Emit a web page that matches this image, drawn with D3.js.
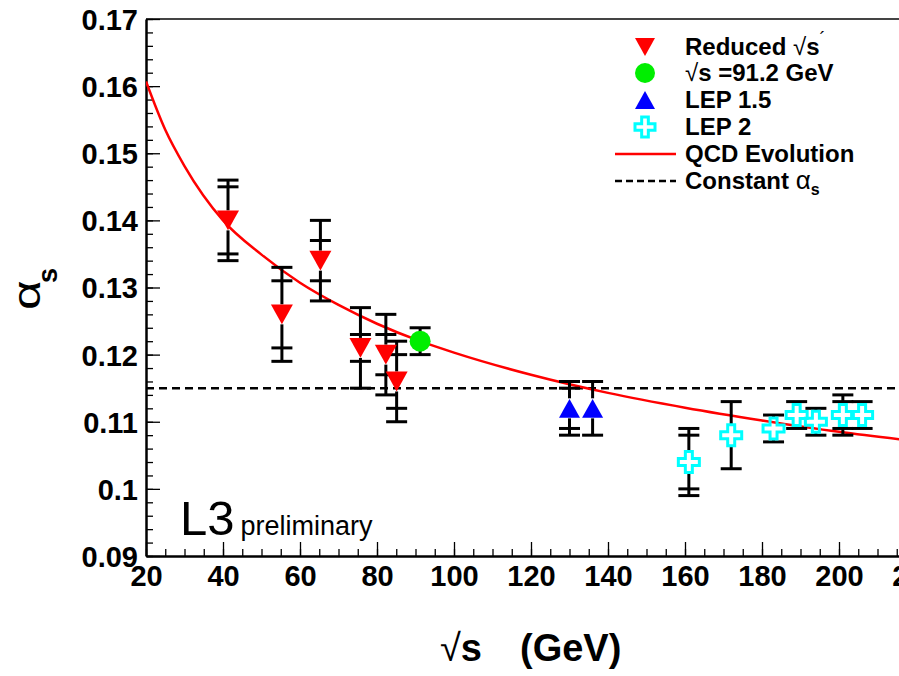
<!DOCTYPE html>
<html>
<head>
<meta charset="utf-8">
<script src="https://cdn.jsdelivr.net/npm/d3@7"></script>
<style>
  html, body { margin: 0; padding: 0; background: #fff; overflow: hidden; }
  svg { display: block; font-family: "Liberation Sans", Arial, sans-serif; }
  .tick text { font-weight: bold; font-size: 29px; fill: #000; }
</style>
</head>
<body>
<div id="chart"></div>
<script>
// ---- data ----
// Reduced sqrt(s')
var redE = [41.3, 55.3, 65.3, 75.7, 82.3, 85.1];
var redA = [0.140, 0.126, 0.134, 0.121, 0.120, 0.116];
var redStat = [0.005, 0.005, 0.003, 0.002, 0.003, 0.004];
var redTot = [0.006, 0.007, 0.006, 0.006, 0.006, 0.006];
// sqrt(s) = 91.2 GeV
var zE = [91.2];
var zA = [0.122];
var zStat = [0];
var zTot = [0.002];
// LEP 1.5
var lep15E = [130, 136];
var lep15A = [0.112, 0.112];
var lep15Stat = [0.003, 0];
var lep15Tot = [0.004, 0.004];
// LEP 2
var lep2E = [161, 172, 183, 189, 194, 201, 206];
var lep2A = [0.104, 0.108, 0.109, 0.111, 0.110, 0.111, 0.111];
var lep2Stat = [0.004, 0, 0, 0, 0, 0.002, 0];
var lep2Tot = [0.005, 0.005, 0.002, 0.002, 0.002, 0.003, 0.002];
// QCD evolution curve
var qcdE = [20, 25, 30, 40, 50, 60, 70, 80, 91.2, 100, 120, 140, 160, 180, 200, 220];
var qcdA = [0.1607, 0.1535, 0.1481, 0.1400, 0.1349, 0.1307, 0.1274, 0.1246, 0.1220, 0.1203, 0.1170, 0.1143, 0.1121, 0.1102, 0.1085, 0.1071];
// constant alpha_s
var constA = 0.115;
// axes
var xTicks = [20, 40, 60, 80, 100, 120, 140, 160, 180, 200, 220];
var yTicks = [0.09, 0.1, 0.11, 0.12, 0.13, 0.14, 0.15, 0.16, 0.17];

// ---- layout ----
var W = 899, H = 676;
var pLeft = 146, pTop = 19, pRight = 916, pBottom = 556;

var svg = d3.select("#chart").append("svg")
    .attr("width", W)
    .attr("height", H);

var x = d3.scaleLinear().domain([20, 220]).range([pLeft, pRight]);
var y = d3.scaleLinear().domain([0.09, 0.17]).range([pBottom, pTop]);

svg.append("clipPath").attr("id", "clip")
    .append("rect")
    .attr("x", pLeft).attr("y", pTop)
    .attr("width", pRight - pLeft).attr("height", pBottom - pTop);

// frame top line
svg.append("line")
    .attr("x1", pLeft).attr("x2", pRight)
    .attr("y1", pTop).attr("y2", pTop)
    .attr("stroke", "#444").attr("stroke-width", 2);

// x axis minor + major
svg.append("g")
    .attr("transform", "translate(0," + pBottom + ")")
    .call(d3.axisBottom(x).tickValues(d3.range(20, 221, 5)).tickSize(-7).tickFormat(""))
    .call(function (g) { g.select(".domain").remove(); })
    .selectAll("line").attr("stroke-width", 1.3);

var gx = svg.append("g")
    .attr("transform", "translate(0," + pBottom + ")")
    .call(d3.axisBottom(x).tickValues(xTicks).tickSize(-14).tickPadding(9).tickSizeOuter(0));
gx.select(".domain").attr("stroke-width", 2.5);
gx.selectAll(".tick line").attr("stroke-width", 1.3);

// y axis minor + major
svg.append("g")
    .attr("transform", "translate(" + pLeft + ",0)")
    .call(d3.axisLeft(y).tickValues(d3.range(0, 41).map(function (i) { return 0.09 + i * 0.002; })).tickSize(-7).tickFormat(""))
    .call(function (g) { g.select(".domain").remove(); })
    .selectAll("line").attr("stroke-width", 1.3);

var gy = svg.append("g")
    .attr("transform", "translate(" + pLeft + ",0)")
    .call(d3.axisLeft(y).tickValues(yTicks).tickSize(-14).tickPadding(8).tickSizeOuter(0)
        .tickFormat(function (d) { return String(+d.toFixed(2)); }));
gy.select(".domain").attr("stroke-width", 2.5);
gy.selectAll(".tick line").attr("stroke-width", 1.3);
gy.selectAll(".tick text").attr("dy", "0.36em");

// axis titles
var xt = svg.append("text")
    .attr("x", 440).attr("y", 661)
    .style("font-size", "38px");
xt.append("tspan").style("font-weight", "normal").text("\u221A");
xt.append("tspan").style("font-weight", "bold").text("s");
xt.append("tspan").attr("x", 520).style("font-weight", "bold").text("(GeV)");

var yt = svg.append("g").attr("transform", "rotate(-90)");
yt.append("text")
    .attr("transform", "translate(-310,40) scale(1.35,1)")
    .style("font-size", "38px")
    .text("\u03B1");
yt.append("text")
    .attr("x", -283).attr("y", 57)
    .style("font-size", "27px").style("font-weight", "bold")
    .text("s");

// curves
var plot = svg.append("g").attr("clip-path", "url(#clip)");

plot.append("line")
    .attr("x1", x(20)).attr("x2", x(220))
    .attr("y1", y(constA)).attr("y2", y(constA))
    .attr("stroke", "#000").attr("stroke-width", 2.5)
    .attr("stroke-dasharray", "8,5");

var qcdLine = d3.line()
    .x(function (d, i) { return x(qcdE[i]); })
    .y(function (d) { return y(d); })
    .curve(d3.curveMonotoneX);

plot.append("path")
    .datum(qcdA)
    .attr("d", qcdLine)
    .attr("fill", "none")
    .attr("stroke", "#ff0000")
    .attr("stroke-width", 2.5);

// marker shapes (centered on 0,0)
function triDown(s) { return "M" + (-s) + "," + (-s * 0.9) + "L" + s + "," + (-s * 0.9) + "L0," + (s * 0.9) + "Z"; }
function triUp(s) { return "M" + (-s) + "," + (s * 0.9) + "L" + s + "," + (s * 0.9) + "L0," + (-s * 0.9) + "Z"; }
function openCross(s) {
    var a = s / 3;
    return "M" + (-a) + "," + (-s) + "H" + a + "V" + (-a) + "H" + s + "V" + a + "H" + a +
        "V" + s + "H" + (-a) + "V" + a + "H" + (-s) + "V" + (-a) + "H" + (-a) + "Z";
}

// error bars with a gap where the marker sits
function errorBars(E, A, stat, tot, gap) {
    var g = plot.append("g").attr("stroke", "#000").attr("stroke-width", 3);
    E.forEach(function (e, i) {
        var cx = x(e), cy = y(A[i]);
        var yT = y(A[i] + tot[i]), yB = y(A[i] - tot[i]);
        if (cy - gap > yT) {
            g.append("line").attr("x1", cx).attr("x2", cx).attr("y1", yT).attr("y2", cy - gap);
        }
        if (cy + gap < yB) {
            g.append("line").attr("x1", cx).attr("x2", cx).attr("y1", cy + gap).attr("y2", yB);
        }
        [tot[i], stat[i]].forEach(function (err) {
            if (!err) return;
            [A[i] + err, A[i] - err].forEach(function (v) {
                g.append("line")
                    .attr("x1", cx - 10.5).attr("x2", cx + 10.5)
                    .attr("y1", y(v)).attr("y2", y(v));
            });
        });
    });
}

errorBars(redE, redA, redStat, redTot, 10);
errorBars(zE, zA, zStat, zTot, 9);
errorBars(lep15E, lep15A, lep15Stat, lep15Tot, 10);
errorBars(lep2E, lep2A, lep2Stat, lep2Tot, 11);

plot.selectAll(".red").data(redE).enter().append("path")
    .attr("transform", function (d, i) { return "translate(" + x(d) + "," + y(redA[i]) + ")"; })
    .attr("d", triDown(11)).attr("fill", "#ff0000");

plot.selectAll(".zpk").data(zE).enter().append("circle")
    .attr("cx", function (d) { return x(d); })
    .attr("cy", function (d, i) { return y(zA[i]); })
    .attr("r", 10.5).attr("fill", "#00ee00");

plot.selectAll(".l15").data(lep15E).enter().append("path")
    .attr("transform", function (d, i) { return "translate(" + x(d) + "," + y(lep15A[i]) + ")"; })
    .attr("d", triUp(10.5)).attr("fill", "#0000ff");

plot.selectAll(".l2").data(lep2E).enter().append("path")
    .attr("transform", function (d, i) { return "translate(" + x(d) + "," + y(lep2A[i]) + ")"; })
    .attr("d", openCross(10.5)).attr("fill", "none")
    .attr("stroke", "#00ffff").attr("stroke-width", 3);

// L3 preliminary
var l3 = svg.append("text").attr("x", 180).attr("y", 535);
l3.append("tspan").style("font-size", "49px").text("L3");
l3.append("tspan").attr("dx", 6).style("font-size", "27px").text("preliminary");

// legend
var legMx = 645, legTx = 685, legRows = [47, 73, 100, 127, 154, 181];
var leg = svg.append("g").style("font-size", "24px").style("font-weight", "bold");

leg.append("path").attr("transform", "translate(" + legMx + "," + legRows[0] + ")")
    .attr("d", triDown(10)).attr("fill", "#ff0000");
leg.append("circle").attr("cx", legMx).attr("cy", legRows[1]).attr("r", 10).attr("fill", "#00ee00");
leg.append("path").attr("transform", "translate(" + legMx + "," + legRows[2] + ")")
    .attr("d", triUp(10)).attr("fill", "#0000ff");
leg.append("path").attr("transform", "translate(" + legMx + "," + legRows[3] + ")")
    .attr("d", openCross(10)).attr("fill", "none").attr("stroke", "#00ffff").attr("stroke-width", 3);
leg.append("line").attr("x1", 615).attr("x2", 676).attr("y1", legRows[4]).attr("y2", legRows[4])
    .attr("stroke", "#ff0000").attr("stroke-width", 2.5);
leg.append("line").attr("x1", 615).attr("x2", 676).attr("y1", legRows[5]).attr("y2", legRows[5])
    .attr("stroke", "#000").attr("stroke-width", 2.5).attr("stroke-dasharray", "7,4");

var t0 = leg.append("text").attr("x", legTx).attr("y", legRows[0] + 8);
t0.append("tspan").text("Reduced ");
t0.append("tspan").style("font-weight", "normal").text("\u221A");
t0.append("tspan").text("s");
t0.append("tspan").attr("dy", -10).style("font-weight", "normal").style("font-size", "18px").text("\u00B4");

var t1 = leg.append("text").attr("x", legTx).attr("y", legRows[1] + 8);
t1.append("tspan").style("font-weight", "normal").text("\u221A");
t1.append("tspan").text("s =91.2 GeV");

leg.append("text").attr("x", legTx).attr("y", legRows[2] + 8).text("LEP 1.5");
leg.append("text").attr("x", legTx).attr("y", legRows[3] + 8).text("LEP 2");
leg.append("text").attr("x", legTx).attr("y", legRows[4] + 8).text("QCD Evolution");

var t5 = leg.append("text").attr("x", legTx).attr("y", legRows[5] + 8);
t5.append("tspan").text("Constant ");
t5.append("tspan").style("font-weight", "normal").style("font-size", "26px").text("\u03B1");
t5.append("tspan").attr("dy", 6).style("font-size", "16px").text("s");
</script>
</body>
</html>
